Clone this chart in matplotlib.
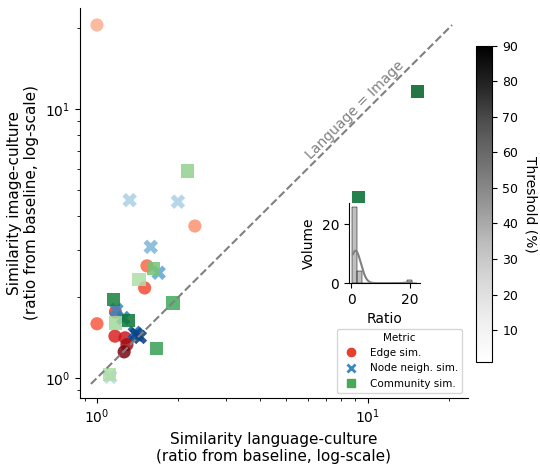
import matplotlib
matplotlib.use("Agg")
import matplotlib.pyplot as plt
import numpy as np
import seaborn as sns
from matplotlib.lines import Line2D

edge_x = [1.00, 2.30, 1.53, 1.50, 1.00, 1.165, 1.27, 1.29, 1.26, 1.17]
edge_y = [20.5, 3.67, 2.61, 2.16, 1.59, 1.43, 1.41, 1.33, 1.25, 1.76]
edge_t = [5, 15, 30, 40, 35, 55, 60, 75, 85, 45]

node_x = [1.32, 1.99, 1.58, 1.69, 1.18, 1.25, 1.38, 1.44, 1.40, 1.12]
node_y = [4.58, 4.52, 3.07, 2.46, 1.79, 1.67, 1.47, 1.42, 1.45, 1.01]
node_t = [10, 10, 25, 35, 50, 55, 70, 85, 80, 5]

comm_x = [15.3, 9.26, 2.16, 1.62, 1.43, 1.15, 1.91, 1.17, 1.31, 1.66, 1.11]
comm_y = [11.6, 4.70, 5.88, 2.56, 2.33, 1.95, 1.90, 1.60, 1.63, 1.29, 1.03]
comm_t = [80, 75, 20, 30, 10, 65, 45, 15, 70, 50, 10]

fig = plt.figure(figsize=(5.4, 4.72), dpi=100)
ax = fig.add_axes([0.148, 0.157, 0.718, 0.826])
ax.set_xscale("log"); ax.set_yscale("log")

def cols(cmap, t):
    c = plt.get_cmap(cmap)
    return [c(0.25 + 0.75 * v / 90) for v in t]

ax.scatter(edge_x, edge_y, c=cols("Reds", edge_t), marker="o", s=90, alpha=0.85, linewidths=0)
ax.scatter(node_x, node_y, c=cols("Blues", node_t), marker="X", s=110, alpha=0.85, linewidths=0)
ax.scatter(comm_x, comm_y, c=cols("Greens", comm_t), marker="s", s=90, alpha=0.85, linewidths=0)
ax.plot([0.95, 20.5], [0.95, 20.5], ls="--", color="gray", lw=1.5)
ax.text(9.0, 9.9, "Language = Image", rotation=45, color="gray", fontsize=10, ha="center", va="center")
ax.set_xlim(0.865, 23.4); ax.set_ylim(0.843, 23.7)
ax.spines["top"].set_visible(False); ax.spines["right"].set_visible(False)
ax.set_xlabel("Similarity language-culture\n(ratio from baseline, log-scale)", fontsize=11)
ax.set_ylabel("Similarity image-culture\n(ratio from baseline, log-scale)", fontsize=11)

handles = [Line2D([], [], marker="o", ls="", color="#e8402e", label="Edge sim."),
           Line2D([], [], marker="x", ls="", color="#3b87c6", markeredgewidth=2, label="Node neigh. sim."),
           Line2D([], [], marker="s", ls="", color="#4aa858", label="Community sim.")]
ax.legend(handles=handles, title="Metric", loc="lower right", fontsize=7.5, title_fontsize=7.5,
          bbox_to_anchor=(1.0, 0.0))

ins = fig.add_axes([0.646, 0.40, 0.132, 0.17])
ratios = np.array(edge_y + node_y + comm_y) / np.array(edge_x + node_x + comm_x)
sns.histplot(ratios, ax=ins, kde=True, color="gray", edgecolor="black", binwidth=1.7, binrange=(0.2, 22.3))
ins.set_xlabel("Ratio", fontsize=10); ins.set_ylabel("Volume", fontsize=10)
ins.tick_params(labelsize=10)
ins.spines["top"].set_visible(False); ins.spines["right"].set_visible(False)
ins.set_xticks([0, 20]); ins.set_yticks([0, 20])

cax = fig.add_axes([0.882, 0.233, 0.030, 0.67])
sm = plt.cm.ScalarMappable(cmap="Greys", norm=plt.Normalize(1, 90))
cb = fig.colorbar(sm, cax=cax)
cb.set_ticks([10, 20, 30, 40, 50, 60, 70, 80, 90])
cb.set_label("Threshold (%)", rotation=270, labelpad=14, fontsize=10)
cb.ax.tick_params(labelsize=9)
fig.savefig("out.png", dpi=100)
